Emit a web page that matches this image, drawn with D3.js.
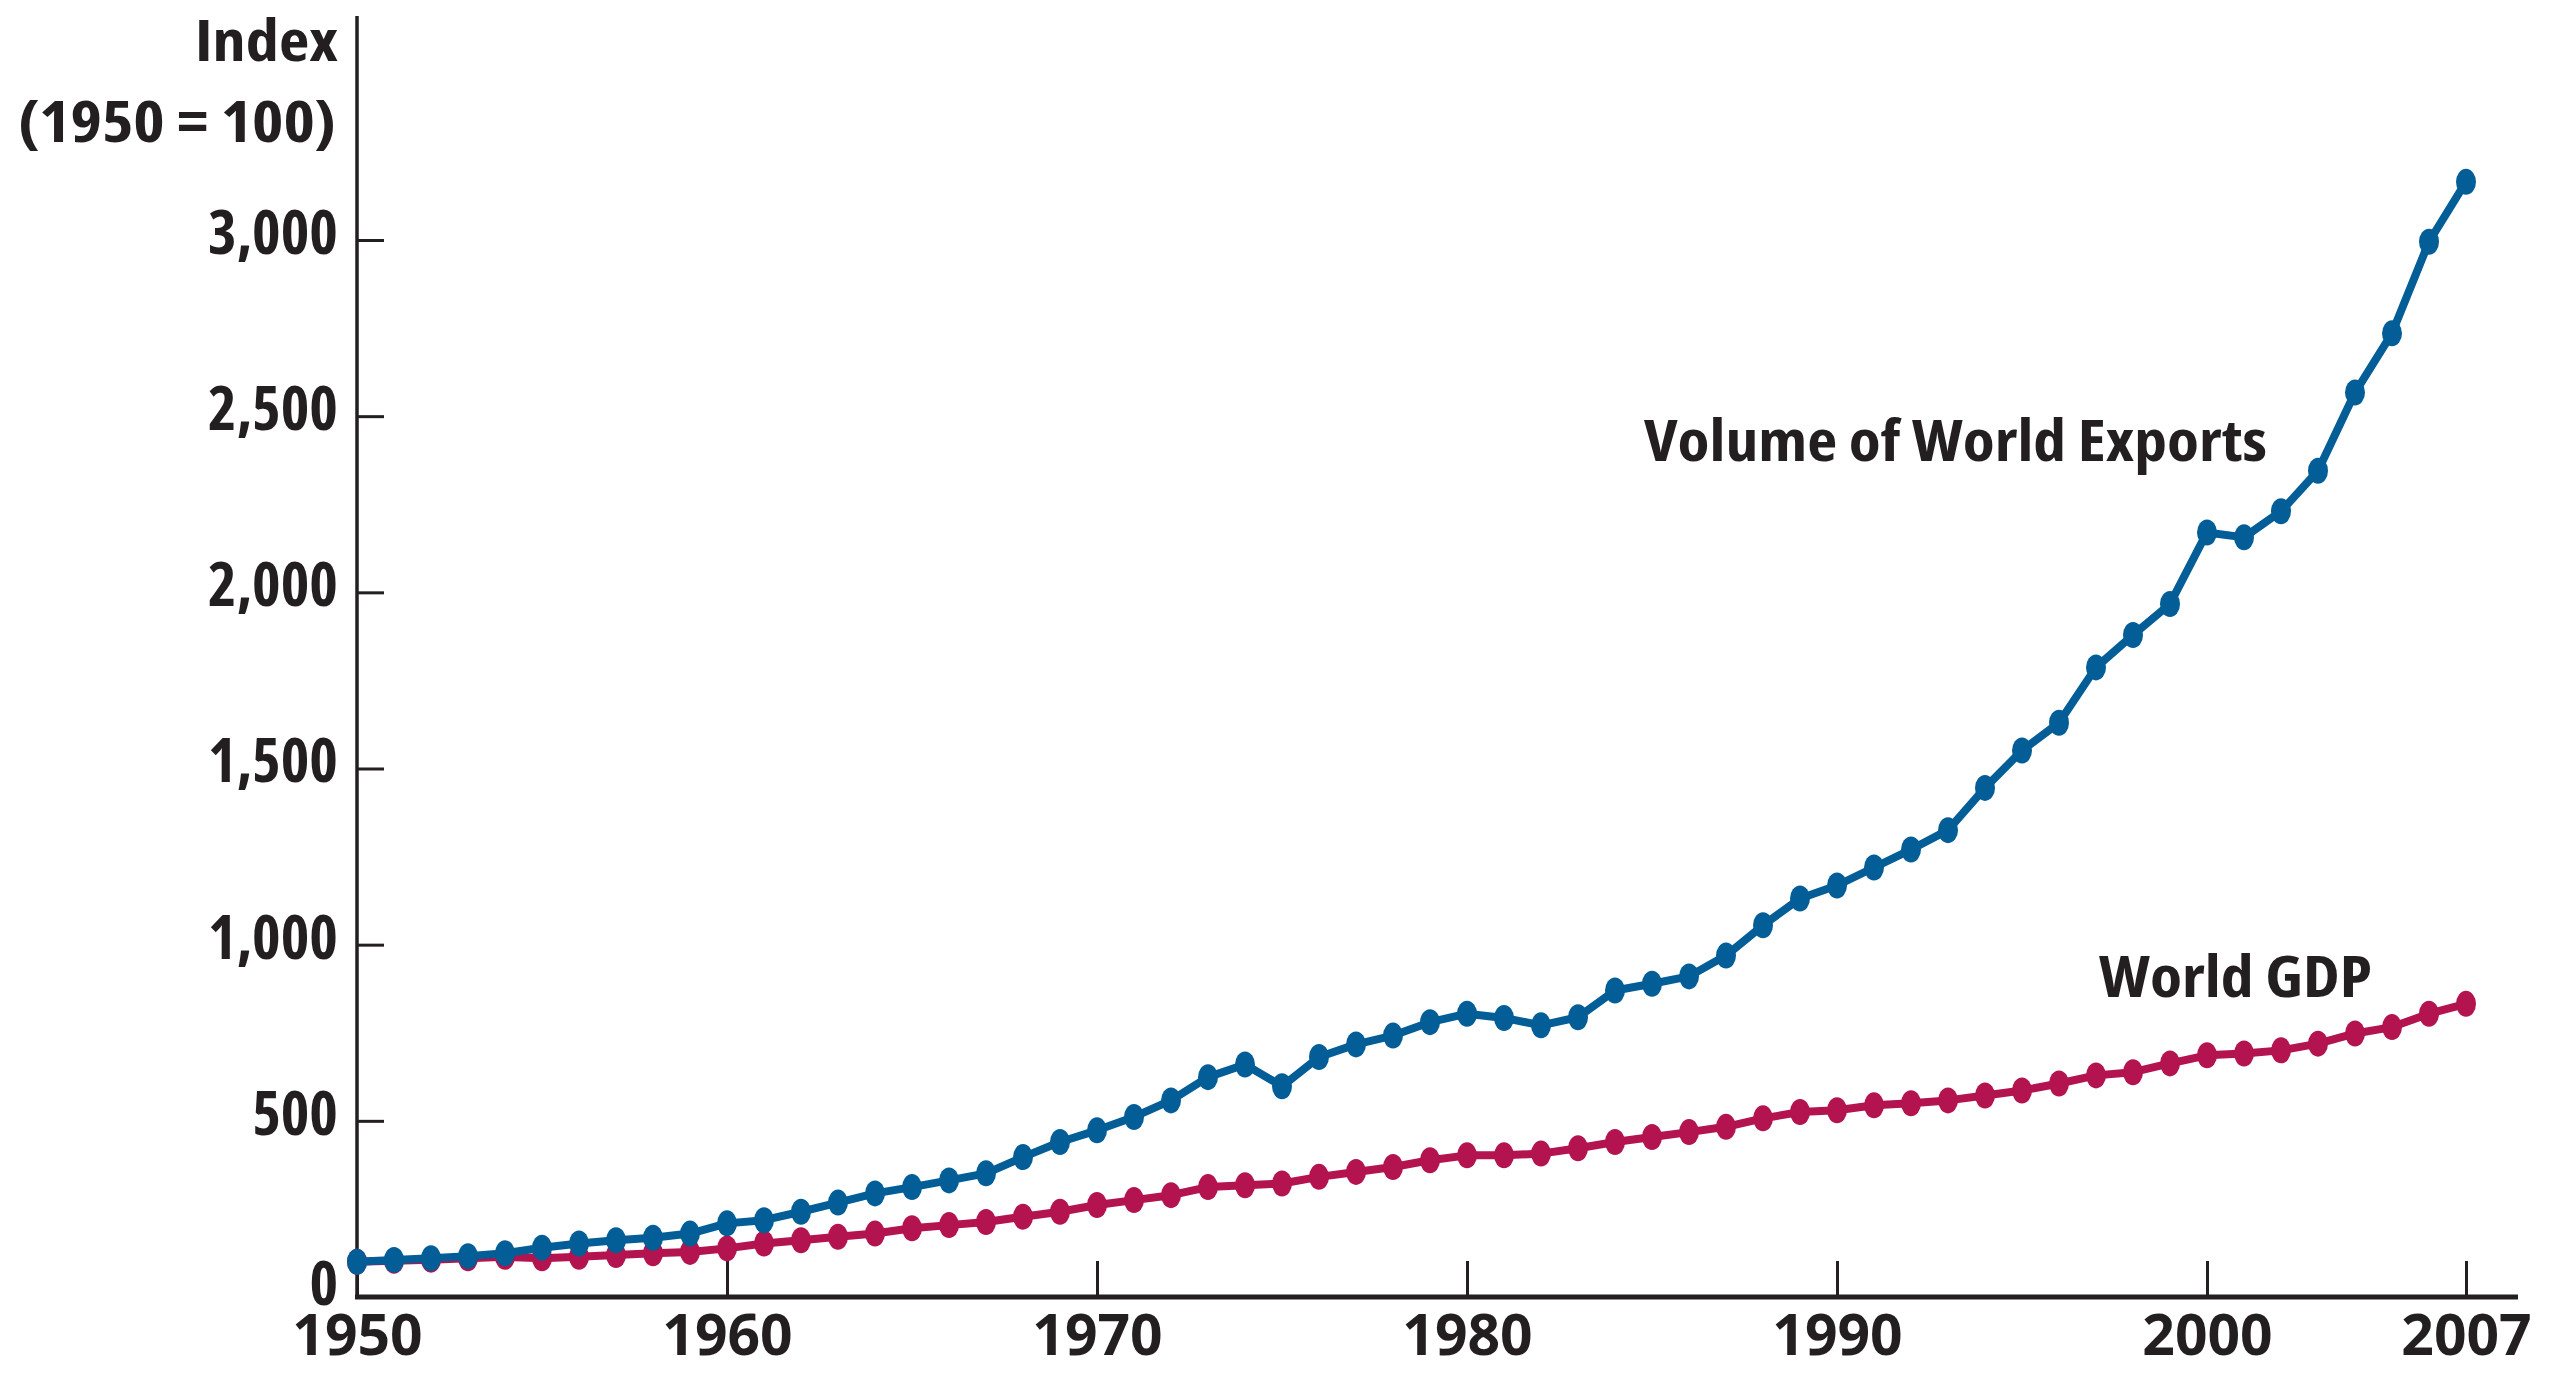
<!DOCTYPE html>
<html>
<head>
<meta charset="utf-8">
<script src="https://cdn.jsdelivr.net/npm/d3@7"></script>
<style>
  html, body { margin: 0; padding: 0; background: #fff; }
  svg text { font-family: 'Open Sans', 'Liberation Sans Narrow', sans-serif; font-weight: 700; fill: #231f20; }
</style>
</head>
<body>
<svg id="chart"></svg>
<script>
// Años y series (índice 1950 = 100)
const years = d3.range(1950, 2008);

const exportsIdx = [
  100, 105, 110, 116, 124, 140, 152, 161, 168, 180,
  209, 218, 242, 268, 294, 312, 331, 351, 397, 440,
  473, 511, 558, 624, 660, 598, 681, 717, 742, 780,
  804, 792, 771, 794, 870, 889, 910, 969, 1055, 1131,
  1168, 1219, 1270, 1325, 1445, 1551, 1630, 1787, 1879, 1967,
  2170, 2156, 2230, 2345, 2567, 2735, 2995, 3165
];

const gdpIdx = [
  100, 103, 106, 110, 114, 110, 114, 119, 124, 128,
  138, 152, 161, 171, 180, 195, 204, 213, 228, 242,
  261, 275, 289, 312, 317, 322, 341, 355, 369, 388,
  402, 402, 407, 422, 440, 454, 468, 483, 507, 525,
  530, 544, 550, 558, 572, 586, 606, 629, 638, 663,
  686, 691, 700, 719, 748, 766, 804, 832
];

const xTicks = [1950, 1960, 1970, 1980, 1990, 2000, 2007];
const yTicks = [0, 500, 1000, 1500, 2000, 2500, 3000];

const width = 2555;
const height = 1375;

const blue = '#035d97';
const red = '#b3134f';
const ink = '#231f20';

const svg = d3.select('#chart')
  .attr('width', width)
  .attr('height', height)
  .attr('viewBox', `0 0 ${width} ${height}`);

// Escalas
const x = d3.scaleLinear().domain([1950, 2007]).range([357, 2466]);
const y = d3.scaleLinear().domain([0, 3000]).range([1297, 240]);

// Eje Y
const yAxis = d3.axisLeft(y)
  .tickValues(yTicks)
  .tickFormat(d3.format(','))
  .tickSizeInner(-27)
  .tickSizeOuter(0)
  .tickPadding(19);

const gy = svg.append('g')
  .attr('transform', `translate(${x(1950)},0)`)
  .call(yAxis);
gy.select('.domain').remove();
gy.selectAll('.tick line').attr('stroke', ink).attr('stroke-width', 3);
gy.selectAll('.tick text')
  .attr('font-size', 61)
  .attr('font-stretch', '75%')
  .attr('dy', d => d === 0 ? '0.12em' : '0.22em');

// Eje X
const xAxis = d3.axisBottom(x)
  .tickValues(xTicks)
  .tickFormat(d3.format('d'))
  .tickSizeInner(-36)
  .tickSizeOuter(0)
  .tickPadding(18);

const gx = svg.append('g')
  .attr('transform', `translate(0,${y(0)})`)
  .call(xAxis);
gx.select('.domain').remove();
gx.selectAll('.tick line').attr('stroke', ink).attr('stroke-width', 3);
gx.selectAll('.tick text')
  .attr('font-size', 57)
  .attr('font-stretch', '100%');

// Líneas de los ejes
svg.append('line')
  .attr('x1', x(1950)).attr('x2', x(1950))
  .attr('y1', 16).attr('y2', y(0) + 2)
  .attr('stroke', ink)
  .attr('stroke-width', 3.5);

svg.append('line')
  .attr('x1', x(1950) - 2).attr('x2', 2518)
  .attr('y1', y(0)).attr('y2', y(0))
  .attr('stroke', ink)
  .attr('stroke-width', 5);

// Textos con ancho ajustado (la fuente condensada es algo más estrecha)
function label(txt, px, py, len, anchor) {
  return svg.append('text')
    .attr('x', px).attr('y', py)
    .attr('text-anchor', anchor || 'start')
    .attr('font-size', 58)
    .attr('font-stretch', '75%')
    .attr('textLength', len)
    .attr('lengthAdjust', 'spacingAndGlyphs')
    .text(txt);
}

// Título del eje
label('Index', 338, 61, 143, 'end');
label('(1950 = 100)', 336, 142, 318, 'end');

// Series
const line = d3.line()
  .x(d => x(d.year))
  .y(d => y(d.value));

const series = [
  { name: 'World GDP', values: gdpIdx, color: red },
  { name: 'Volume of World Exports', values: exportsIdx, color: blue }
];

series.forEach(s => {
  const pts = years.map((yr, i) => ({ year: yr, value: s.values[i] }));

  svg.append('path')
    .datum(pts)
    .attr('fill', 'none')
    .attr('stroke', s.color)
    .attr('stroke-width', 8)
    .attr('stroke-linejoin', 'round')
    .attr('d', line);

  svg.append('g')
    .selectAll('ellipse')
    .data(pts)
    .join('ellipse')
    .attr('cx', d => x(d.year))
    .attr('cy', d => y(d.value))
    .attr('rx', 10)
    .attr('ry', 13)
    .attr('fill', s.color);
});

// Etiquetas de las series
label('Volume of World Exports', 1644, 461, 623);
label('World GDP', 2099, 997, 273);
</script>
</body>
</html>
